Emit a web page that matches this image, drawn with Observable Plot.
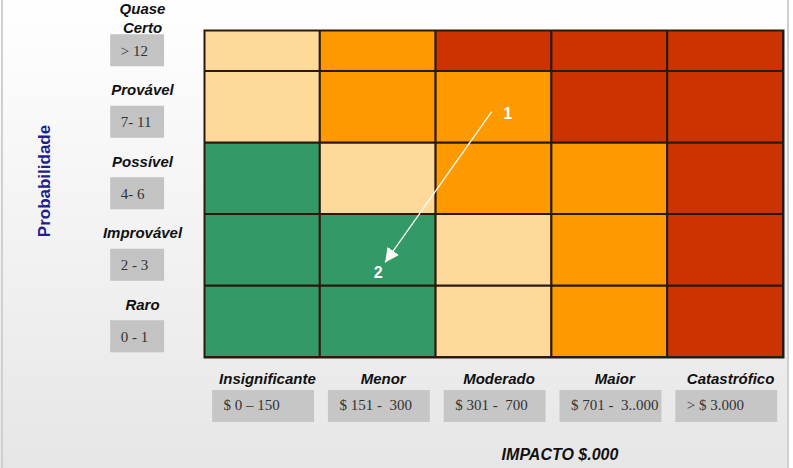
<!DOCTYPE html>
<html>
<head>
<meta charset="utf-8">
<script src="https://cdn.jsdelivr.net/npm/d3@7"></script>
<script src="https://cdn.jsdelivr.net/npm/@observablehq/plot@0.6"></script>
<style>
  body { margin: 0; background: #fff; }
  svg text { white-space: pre; }
</style>
</head>
<body>
<div id="chart"></div>
<script>
// ---- Data ----
const impactCategories = ["Insignificante", "Menor", "Moderado", "Maior", "Catastrófico"];
const impactRanges = ["$ 0 – 150", "$ 151 -  300", "$ 301 -  700", "$ 701 -  3..000", "> $ 3.000"];
const probabilityCategories = ["Raro", "Improvável", "Possível", "Provável", "Quase\nCerto"]; // bottom → top
const probabilityRanges = ["0 - 1", "2 - 3", "4- 6", "7- 11", "> 12"];
const riskLevels = [            // rows bottom → top, columns = impact
  [0, 0, 1, 2, 3],
  [0, 0, 1, 2, 3],
  [0, 1, 2, 2, 3],
  [1, 2, 2, 3, 3],
  [1, 2, 3, 3, 3]
];
const levelNames = ["Baixo", "Médio", "Alto", "Extremo"];
const riskIds = ["1", "2"];
const riskImpact = [2.48, 1.56];       // position on impact axis (column units)
const riskProbability = [3.44, 1.33];  // position on probability axis (row units)

// ---- Derived tables ----
const cells = [];
riskLevels.forEach((row, r) => row.forEach((lv, c) => cells.push({col: c, row: r, level: levelNames[lv]})));
const impacts = impactCategories.map((name, i) => ({i, name, range: impactRanges[i]}));
const probs = probabilityCategories.map((name, i) => ({i, name, range: probabilityRanges[i]}));

const sans = "Liberation Sans, Arial, Helvetica, sans-serif";
const serif = "Liberation Serif, Times New Roman, serif";

function solidArrow(color, context) {
  const doc = (context && context.document) || document;
  const ns = "http://www.w3.org/2000/svg";
  const m = doc.createElementNS(ns, "marker");
  m.setAttribute("viewBox", "-9 -5 10 10");
  m.setAttribute("markerWidth", 12);
  m.setAttribute("markerHeight", 12);
  m.setAttribute("orient", "auto");
  m.setAttribute("fill", color);
  m.setAttribute("stroke", "none");
  const p = doc.createElementNS(ns, "path");
  p.setAttribute("d", "M-9,-4.5L0,0L-9,4.5Z");
  m.appendChild(p);
  return m;
}

function build(useCustomMarker) {
  const arrowMark = useCustomMarker
    ? Plot.link([0], {
        x1: () => riskImpact[0], y1: () => riskProbability[0],
        x2: () => riskImpact[1], y2: () => riskProbability[1],
        stroke: "#fbfbf6", strokeWidth: 1.3, markerEnd: solidArrow
      })
    : Plot.arrow([0], {
        x1: () => riskImpact[0], y1: () => riskProbability[0],
        x2: () => riskImpact[1], y2: () => riskProbability[1],
        stroke: "#fbfbf6", strokeWidth: 1.5, headLength: 10
      });

  return Plot.plot({
    width: 793,
    height: 468,
    marginTop: 30,
    marginBottom: 111,
    marginLeft: 204,
    marginRight: 10,
    style: {
      background: "linear-gradient(to right, transparent 1px, #d0d0d0 1px, #d0d0d0 3px, transparent 3px, transparent 787px, #d0d0d0 787px, #d0d0d0 789px, #ffffff 789px), linear-gradient(to bottom, #ffffff, #e6e6e6)",
      overflow: "visible"
    },
    x: {domain: [0, 5], axis: null},
    y: {domain: [0, 4.573], axis: null},
    color: {domain: levelNames, range: ["#339966", "#ffd999", "#ff9900", "#cc3300"]},
    marks: [
      // heat-map cells
      Plot.rect(cells, {
        x1: "col", x2: d => d.col + 1,
        y1: "row", y2: d => d.row + 1,
        fill: "level", stroke: "#2a1a0e", strokeWidth: 2, clip: true
      }),
      Plot.frame({stroke: "#2a1a0e", strokeWidth: 2}),

      // left: probability labels and range boxes
      Plot.text(probs, {
        y: d => d.i + 0.5, frameAnchor: "left", textAnchor: "middle", dx: -62, dy: -18,
        text: "name", fontFamily: sans, fontSize: 15, fontWeight: "bold", fontStyle: "italic",
        fill: "#111", lineHeight: 1.25
      }),
      Plot.rect(probs, {
        x1: () => -0.81, x2: () => -0.345,
        y1: d => d.i + 0.066, y2: d => d.i + 0.514,
        fill: "#c3c3c3"
      }),
      Plot.text(probs, {
        x: () => -0.81, y: d => d.i + 0.29, dx: 10, textAnchor: "start",
        text: "range", fontFamily: serif, fontSize: 15, fill: "#333"
      }),

      // bottom: impact labels and range boxes
      Plot.text(impacts, {
        x: d => d.i + 0.5, frameAnchor: "bottom", textAnchor: "middle", dx: 5, dy: 26,
        text: "name", fontFamily: sans, fontSize: 15, fontWeight: "bold", fontStyle: "italic",
        fill: "#111"
      }),
      Plot.rect(impacts, {
        x1: d => d.i + 0.07, x2: d => d.i + 0.95,
        y1: () => -0.462, y2: () => -0.909,
        fill: "#c6c6c6"
      }),
      Plot.text(impacts, {
        x: d => d.i + 0.07, y: () => -0.67, dx: 11, textAnchor: "start",
        text: "range", fontFamily: serif, fontSize: 15, fill: "#333"
      }),

      // axis titles
      Plot.text(["Probabilidade"], {
        frameAnchor: "left", textAnchor: "middle", dx: -160, dy: -13, rotate: -90, text: d => d,
        fontFamily: sans, fontSize: 17, fontWeight: "bold", fill: "#1f1f8c"
      }),
      Plot.text(["IMPACTO $.000"], {
        frameAnchor: "bottom", textAnchor: "middle", dx: 66, dy: 102, text: d => d,
        fontFamily: sans, fontSize: 16, fontWeight: "bold", fontStyle: "italic", fill: "#111"
      }),

      // risk movement arrow
      arrowMark,
      Plot.text([riskIds[0]], {
        x: () => riskImpact[0], y: () => riskProbability[0], dx: 16, dy: 2, text: d => d,
        fontFamily: sans, fontSize: 16, fontWeight: "bold", fill: "#ffffff"
      }),
      Plot.text([riskIds[1]], {
        x: () => riskImpact[1], y: () => riskProbability[1], dx: -7, dy: 10, text: d => d,
        fontFamily: sans, fontSize: 16, fontWeight: "bold", fill: "#ffffff"
      })
    ]
  });
}

let chart;
try { chart = build(true); } catch (e) { chart = build(false); }
document.getElementById("chart").appendChild(chart);
</script>
</body>
</html>
